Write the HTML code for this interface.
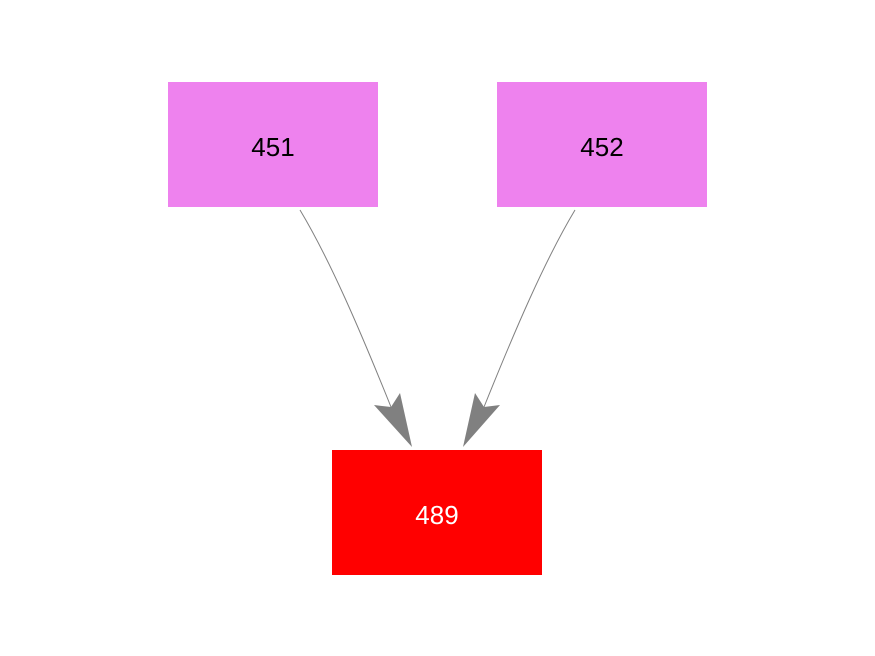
<!DOCTYPE html>
<html><head><style>
body{margin:0;background:#fff;}
.b{position:absolute;width:210px;height:125px;display:flex;align-items:center;justify-content:center;font-family:"Liberation Sans",sans-serif;font-size:26px;padding-top:5px;box-sizing:border-box;}
</style></head><body>
<div style="position:relative;width:875px;height:656px;overflow:hidden">
<div class="b" style="left:168px;top:82px;background:#ee82ee;color:#000">451</div>
<div class="b" style="left:497px;top:82px;background:#ee82ee;color:#000">452</div>
<div class="b" style="left:332px;top:450px;background:#ff0000;color:#fff">489</div>
<svg width="875" height="656" style="position:absolute;left:0;top:0">
<path d="M300,210 C330,260 360,330 391,407" fill="none" stroke="#808080" stroke-width="1"/>
<path d="M575,210 C545,260 515,330 484,407" fill="none" stroke="#808080" stroke-width="1"/>
<polygon points="374,405 391,407 400,393 412,447" fill="#808080"/>
<polygon points="475,393 484,407 500,405 463,447" fill="#808080"/>
</svg>
</div>
</body></html>
